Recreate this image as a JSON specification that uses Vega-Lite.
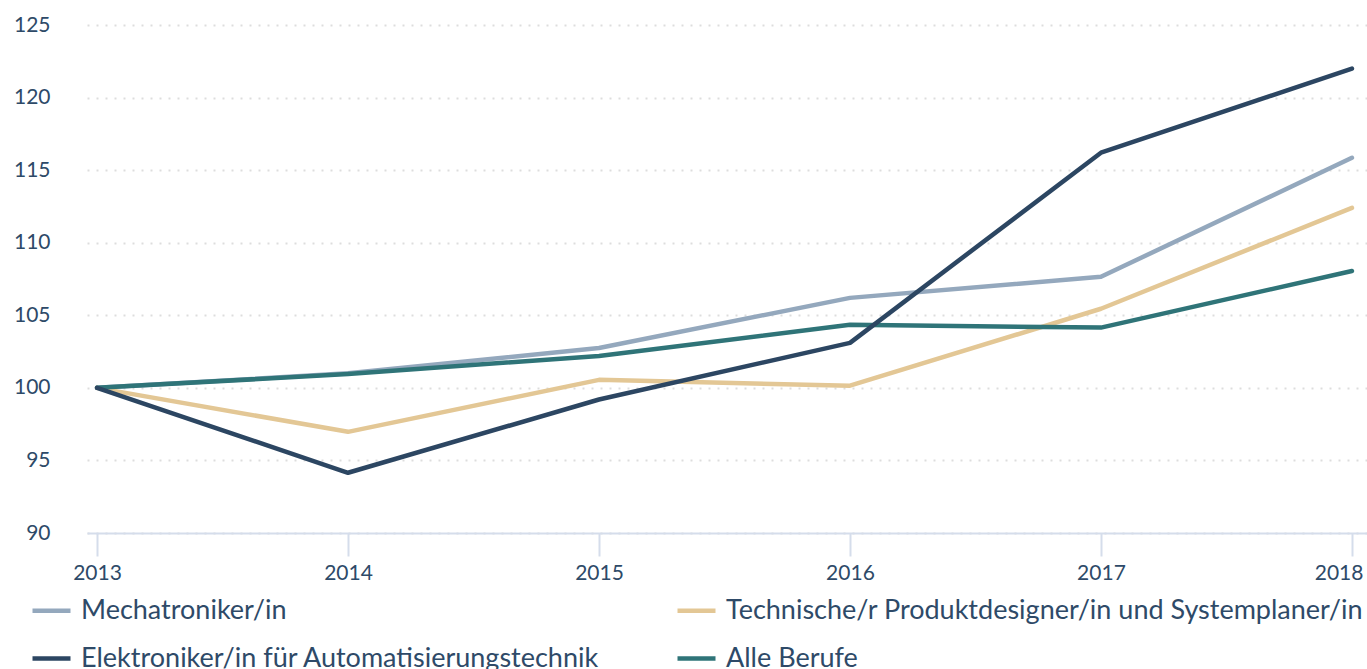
{
  "$schema": "https://vega.github.io/schema/vega-lite/v6.json",
  "width": 1280,
  "height": 508,
  "autosize": {"type": "none"},
  "padding": {"left": 87, "top": 25, "right": 0, "bottom": 136},
  "config": {"view": {"stroke": null}, "font": "Lato"},
  "data": {
    "values": [
      {"Beruf": "Mechatroniker/in", "Jahr": 2013, "Wert": 100.0},
      {"Beruf": "Mechatroniker/in", "Jahr": 2014, "Wert": 101.0},
      {"Beruf": "Mechatroniker/in", "Jahr": 2015, "Wert": 102.75},
      {"Beruf": "Mechatroniker/in", "Jahr": 2016, "Wert": 106.2},
      {"Beruf": "Mechatroniker/in", "Jahr": 2017, "Wert": 107.65},
      {"Beruf": "Mechatroniker/in", "Jahr": 2018, "Wert": 115.85},
      {"Beruf": "Technische/r Produktdesigner/in und Systemplaner/in", "Jahr": 2013, "Wert": 100.0},
      {"Beruf": "Technische/r Produktdesigner/in und Systemplaner/in", "Jahr": 2014, "Wert": 96.97},
      {"Beruf": "Technische/r Produktdesigner/in und Systemplaner/in", "Jahr": 2015, "Wert": 100.55},
      {"Beruf": "Technische/r Produktdesigner/in und Systemplaner/in", "Jahr": 2016, "Wert": 100.15},
      {"Beruf": "Technische/r Produktdesigner/in und Systemplaner/in", "Jahr": 2017, "Wert": 105.45},
      {"Beruf": "Technische/r Produktdesigner/in und Systemplaner/in", "Jahr": 2018, "Wert": 112.4},
      {"Beruf": "Alle Berufe", "Jahr": 2013, "Wert": 100.0},
      {"Beruf": "Alle Berufe", "Jahr": 2014, "Wert": 100.95},
      {"Beruf": "Alle Berufe", "Jahr": 2015, "Wert": 102.2},
      {"Beruf": "Alle Berufe", "Jahr": 2016, "Wert": 104.35},
      {"Beruf": "Alle Berufe", "Jahr": 2017, "Wert": 104.15},
      {"Beruf": "Alle Berufe", "Jahr": 2018, "Wert": 108.05},
      {"Beruf": "Elektroniker/in für Automatisierungstechnik", "Jahr": 2013, "Wert": 100.0},
      {"Beruf": "Elektroniker/in für Automatisierungstechnik", "Jahr": 2014, "Wert": 94.15},
      {"Beruf": "Elektroniker/in für Automatisierungstechnik", "Jahr": 2015, "Wert": 99.2},
      {"Beruf": "Elektroniker/in für Automatisierungstechnik", "Jahr": 2016, "Wert": 103.1},
      {"Beruf": "Elektroniker/in für Automatisierungstechnik", "Jahr": 2017, "Wert": 116.2},
      {"Beruf": "Elektroniker/in für Automatisierungstechnik", "Jahr": 2018, "Wert": 122.0}
    ]
  },
  "mark": {"type": "line", "strokeWidth": 4.5, "strokeCap": "round", "strokeJoin": "round"},
  "encoding": {
    "x": {
      "field": "Jahr",
      "type": "quantitative",
      "scale": {"domain": [2012.96, 2018.06], "nice": false, "zero": false},
      "axis": {
        "title": null,
        "values": [2013, 2014, 2015, 2016, 2017, 2018],
        "format": "d",
        "grid": false,
        "domainColor": "#D5DDEB",
        "domainWidth": 2,
        "tickColor": "#D5DDEB",
        "tickWidth": 2,
        "tickSize": 23,
        "labelPadding": 6,
        "labelFontSize": 21,
        "labelColor": "#2E4A68",
        "labelAlign": {"condition": {"test": "datum.value === 2018", "value": "right"}, "value": "center"},
        "labelOffset": {"condition": {"test": "datum.value === 2018", "value": 11}, "value": 0}
      }
    },
    "y": {
      "field": "Wert",
      "type": "quantitative",
      "scale": {"domain": [90, 125], "nice": false, "zero": false},
      "axis": {
        "title": null,
        "values": [90, 95, 100, 105, 110, 115, 120, 125],
        "grid": true,
        "gridColor": "#DDDDDD",
        "gridDash": [2, 7],
        "gridWidth": 2,
        "domain": false,
        "ticks": false,
        "labelPadding": 37,
        "labelFontSize": 21,
        "labelColor": "#2E4A68"
      }
    },
    "color": {
      "field": "Beruf",
      "type": "nominal",
      "scale": {
        "domain": ["Mechatroniker/in", "Elektroniker/in für Automatisierungstechnik", "Technische/r Produktdesigner/in und Systemplaner/in", "Alle Berufe"],
        "range": ["#94A8BD", "#2C4662", "#E3C795", "#2F7478"]
      },
      "legend": {
        "title": null,
        "orient": "none",
        "legendX": -57,
        "legendY": 564,
        "columns": 2,
        "symbolType": "stroke",
        "symbolSize": 1444,
        "symbolStrokeWidth": 4.5,
        "labelOffset": 8,
        "labelFontSize": 27,
        "labelColor": "#2E4A68",
        "labelLimit": 0,
        "columnPadding": 68,
        "rowPadding": 13
      }
    }
  }
}
